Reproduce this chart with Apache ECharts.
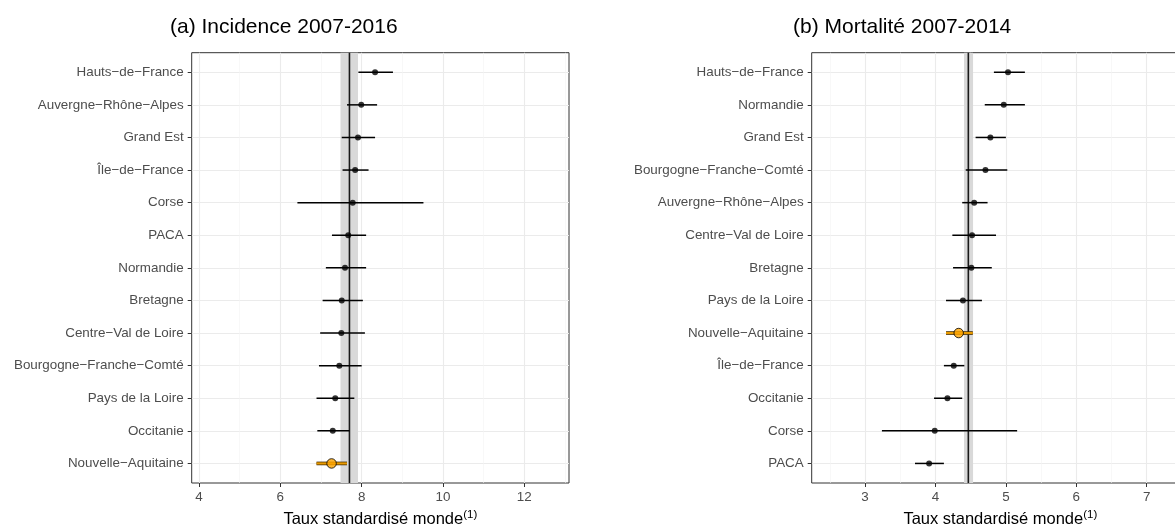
<!DOCTYPE html>
<html><head><meta charset="utf-8">
<script src="https://cdn.jsdelivr.net/npm/echarts@6/dist/echarts.min.js"></script>
<style>html,body{margin:0;padding:0;background:#fff}#c{width:1175px;height:528px}</style>
</head><body><div id="c"></div>
<script>
// ---------- data ----------
const incTitle = '(a) Incidence 2007-2016';
const morTitle = '(b) Mortalité 2007-2014';
const axisName = 'Taux standardisé monde';
const axisNameSup = '(1)';
const highlightRegion = 'Nouvelle−Aquitaine';

const incCategories = ['Hauts−de−France','Auvergne−Rhône−Alpes','Grand Est','Île−de−France','Corse','PACA','Normandie','Bretagne','Centre−Val de Loire','Bourgogne−Franche−Comté','Pays de la Loire','Occitanie','Nouvelle−Aquitaine'];
const incEst  = [8.33, 7.99, 7.91, 7.84, 7.78, 7.67, 7.59, 7.51, 7.50, 7.45, 7.35, 7.29, 7.26];
const incLow  = [7.92, 7.64, 7.51, 7.53, 6.42, 7.27, 7.12, 7.04, 6.98, 6.95, 6.89, 6.91, 6.89];
const incHigh = [8.77, 8.38, 8.33, 8.17, 9.52, 8.11, 8.11, 8.03, 8.08, 8.00, 7.82, 7.70, 7.64];
const incRef = [7.70];
const incRefBand = [7.48, 7.91];
const incTicks = [4, 6, 8, 10, 12];
const incMinorTicks = [5, 7, 9, 11, 13];

const morCategories = ['Hauts−de−France','Normandie','Grand Est','Bourgogne−Franche−Comté','Auvergne−Rhône−Alpes','Centre−Val de Loire','Bretagne','Pays de la Loire','Nouvelle−Aquitaine','Île−de−France','Occitanie','Corse','PACA'];
const morEst  = [5.03, 4.97, 4.78, 4.71, 4.55, 4.52, 4.51, 4.39, 4.33, 4.26, 4.17, 3.99, 3.91];
const morLow  = [4.83, 4.70, 4.57, 4.43, 4.38, 4.24, 4.25, 4.15, 4.15, 4.12, 3.98, 3.24, 3.71];
const morHigh = [5.27, 5.27, 5.00, 5.02, 4.74, 4.86, 4.80, 4.66, 4.53, 4.41, 4.38, 5.16, 4.12];
const morRef = [4.467];
const morRefBand = [4.406, 4.534];
const morTicks = [3, 4, 5, 6, 7];
const morMinorTicks = [2.5, 3.5, 4.5, 5.5, 6.5, 7.5];

// ---------- chart ----------
const FONT = '"Liberation Sans", Arial, Helvetica, sans-serif';
const TXT = '#4D4D4D';

const panels = [
  {title: incTitle, cats: incCategories, est: incEst, low: incLow, high: incHigh, ref: incRef[0], band: incRefBand,
   ticks: incTicks, minor: incMinorTicks, min: 3.82, max: 13.1, left: 191.7, width: 377.3, titleLeft: 170},
  {title: morTitle, cats: morCategories, est: morEst, low: morLow, high: morHigh, ref: morRef[0], band: morRefBand,
   ticks: morTicks, minor: morMinorTicks, min: 2.243, max: 7.60, left: 811.7, width: 377.3, titleLeft: 793}
];

const grids = [], xAxes = [], yAxes = [], series = [], titles = [];
panels.forEach((p, gi) => {
  grids.push({left: p.left, width: p.width, top: 52.7, height: 430.3, show: true,
    borderColor: '#333', borderWidth: 1, backgroundColor: '#fff', containLabel: false,
    outerBoundsMode: 'none'});
  titles.push({text: p.title, left: p.titleLeft, top: 17, padding: 0,
    textStyle: {fontFamily: FONT, fontSize: 21, fontWeight: 'normal', color: '#000'}});
  // main x axis
  xAxes.push({gridIndex: gi, type: 'value', min: p.min, max: p.max,
    axisLine: {show: false},
    axisTick: {show: true, customValues: p.ticks, length: 4, lineStyle: {color: '#333', width: 1}},
    axisLabel: {customValues: p.ticks, margin: 8, color: TXT, fontSize: 13.4, fontFamily: FONT},
    splitLine: {show: true, lineStyle: {color: '#EBEBEB', width: 1.1}},
    name: '{a|' + axisName + '}{s|' + axisNameSup + '}', nameLocation: 'middle', nameGap: 26,
    nameTextStyle: {fontFamily: FONT, color: '#000', rich: {
      a: {fontSize: 16.5, fontFamily: FONT, color: '#000', lineHeight: 20},
      s: {fontSize: 11.5, fontFamily: FONT, color: '#000', verticalAlign: 'top', lineHeight: 20}
    }}
  });
  // minor grid axis
  xAxes.push({gridIndex: gi, type: 'value', min: p.min, max: p.max, position: 'bottom',
    axisLine: {show: false},
    axisTick: {show: false, customValues: p.minor},
    axisLabel: {show: false, customValues: p.minor},
    splitLine: {show: true, lineStyle: {color: '#F3F3F3', width: 0.6}}
  });
  yAxes.push({gridIndex: gi, type: 'value', inverse: true, min: 0.4, max: 13.6,
    axisLine: {show: false},
    axisTick: {show: true, customValues: p.cats.map((c, i) => i + 1), length: 4, lineStyle: {color: '#333', width: 1}},
    axisLabel: {customValues: p.cats.map((c, i) => i + 1), margin: 8, color: TXT, fontSize: 13.4, fontFamily: FONT,
      formatter: v => p.cats[Math.round(v) - 1] || ''},
    splitLine: {show: true, lineStyle: {color: '#EBEBEB', width: 1.1}}
  });
  const xi = gi * 2;
  // reference band + line
  series.push({type: 'custom', xAxisIndex: xi, yAxisIndex: gi, z: 1, silent: true,
    data: [[p.band[0], p.band[1], p.ref]],
    renderItem: (params, api) => {
      const cs = params.coordSys;
      const x0 = api.coord([api.value(0), 1])[0];
      const x1 = api.coord([api.value(1), 1])[0];
      const xr = api.coord([api.value(2), 1])[0];
      return {type: 'group', children: [
        {type: 'rect', shape: {x: x0, y: cs.y, width: x1 - x0, height: cs.height}, style: {fill: '#D9D9D9'}},
        {type: 'line', shape: {x1: xr, y1: cs.y, x2: xr, y2: cs.y + cs.height}, style: {stroke: '#1A1A1A', lineWidth: 1.6}}
      ]};
    }
  });
  // error bars
  series.push({type: 'custom', xAxisIndex: xi, yAxisIndex: gi, z: 3, silent: true,
    data: p.cats.map((c, i) => [p.low[i], p.high[i], i + 1, c === highlightRegion ? 1 : 0]),
    renderItem: (params, api) => {
      const a = api.coord([api.value(0), api.value(2)]);
      const b = api.coord([api.value(1), api.value(2)]);
      if (api.value(3) === 1) {
        return {type: 'group', children: [
          {type: 'line', shape: {x1: a[0], y1: a[1], x2: b[0], y2: b[1]}, style: {stroke: '#3a2400', lineWidth: 3.6}},
          {type: 'line', shape: {x1: a[0], y1: a[1], x2: b[0], y2: b[1]}, style: {stroke: '#E89A00', lineWidth: 2.2}}
        ]};
      }
      return {type: 'line', shape: {x1: a[0], y1: a[1], x2: b[0], y2: b[1]}, style: {stroke: '#000', lineWidth: 1.5}};
    }
  });
  // points
  series.push({type: 'scatter', xAxisIndex: xi, yAxisIndex: gi, z: 4, silent: true,
    data: p.cats.map((c, i) => c === highlightRegion
      ? {value: [p.est[i], i + 1], symbolSize: 9.5, itemStyle: {color: '#FFA500', borderColor: '#000', borderWidth: 1}}
      : {value: [p.est[i], i + 1], symbolSize: 6, itemStyle: {color: '#000'}})
  });
});

const chart = echarts.init(document.getElementById('c'), null, {renderer: 'canvas'});
chart.setOption({
  animation: false,
  backgroundColor: '#fff',
  title: titles,
  grid: grids,
  xAxis: xAxes,
  yAxis: yAxes,
  series: series
});
</script>
</body></html>
